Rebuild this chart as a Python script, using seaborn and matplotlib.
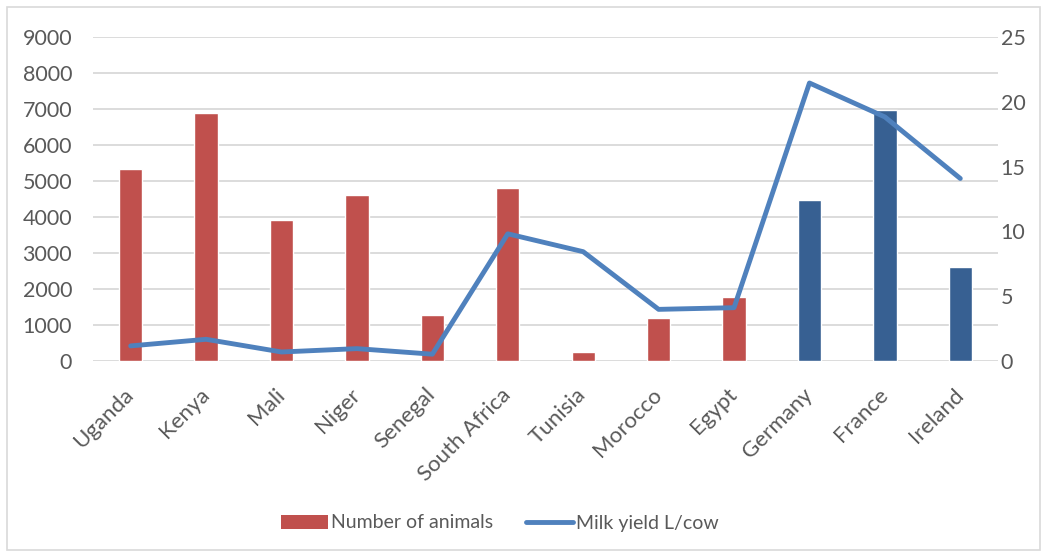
import numpy as np
import pandas as pd
import matplotlib
matplotlib.use("Agg")
import matplotlib.pyplot as plt
import seaborn as sns
from matplotlib.patches import Patch, Rectangle
from matplotlib.lines import Line2D

# Data
countries = ["Uganda", "Kenya", "Mali", "Niger", "Senegal", "South Africa",
             "Tunisia", "Morocco", "Egypt", "Germany", "France", "Ireland"]
animals = [5320, 6890, 3910, 4600, 1280, 4800, 240, 1185, 1790, 4480, 6960, 2600]
milk_yield = [1.16, 1.67, 0.69, 0.95, 0.52, 9.81, 8.43, 3.98, 4.11, 21.45, 18.83, 14.08]
region = ["Africa"] * 9 + ["Europe"] * 3

red = "#C0504D"
dark_blue = "#376092"
line_blue = "#4F81BD"
grid_col = "#D9D9D9"
text_col = "#595959"

df = pd.DataFrame({"country": countries, "animals": animals,
                   "milk": milk_yield, "region": region})

sns.set_style("white")
plt.rcParams["font.family"] = ["Lato", "DejaVu Sans"]

fig = plt.figure(figsize=(10.47, 5.57), dpi=100)
ax = fig.add_axes([0.0888, 0.352, 0.8644, 0.5816])

sns.barplot(data=df, x="country", y="animals", hue="region",
            palette={"Africa": red, "Europe": dark_blue},
            dodge=False, width=0.31, saturation=1, legend=False, ax=ax)

ax.set_ylim(0, 9000)
ax.set_yticks(np.arange(0, 9001, 1000))
ax.set_xlim(-0.5, len(countries) - 0.5)
ax.yaxis.grid(True, color=grid_col, linewidth=1.3)
ax.set_axisbelow(True)
ax.set_xlabel("")
ax.set_ylabel("")
for s in ax.spines.values():
    s.set_visible(False)
ax.tick_params(axis="y", length=0, pad=15, labelsize=15.5, labelcolor=text_col)
ax.tick_params(axis="x", length=0, pad=22, labelsize=16, labelcolor=text_col)
plt.setp(ax.get_xticklabels(), rotation=45, ha="right", va="center",
         rotation_mode="anchor")

ax2 = ax.twinx()
sns.lineplot(x=np.arange(len(countries)), y=milk_yield, ax=ax2,
             color=line_blue, linewidth=3.5, sort=False)
for ln in ax2.lines:
    ln.set_solid_capstyle("round")
    ln.set_solid_joinstyle("round")
ax2.set_ylim(0, 25)
ax2.set_yticks(np.arange(0, 26, 5))
for s in ax2.spines.values():
    s.set_visible(False)
ax2.tick_params(axis="y", length=0, pad=2, labelsize=15.5, labelcolor=text_col)
ax2.set_ylabel("")

handles = [Patch(facecolor=red, edgecolor="none"),
           Line2D([0], [0], color=line_blue, linewidth=3.5, solid_capstyle="round")]
fig.legend(handles, ["Number of animals", "Milk yield L/cow"],
           loc="center", bbox_to_anchor=(500 / 1047, 1 - 523 / 557), ncol=2,
           frameon=False, fontsize=14, labelcolor=text_col,
           handlelength=2.4, handleheight=0.75, handletextpad=0.15,
           columnspacing=1.7)

fig.patches.append(Rectangle((7 / 1047, 7 / 557), 1 - 14 / 1047, 1 - 14 / 557,
                             transform=fig.transFigure, fill=False,
                             edgecolor=grid_col, linewidth=1.2))

fig.savefig("out.png", dpi=100)
